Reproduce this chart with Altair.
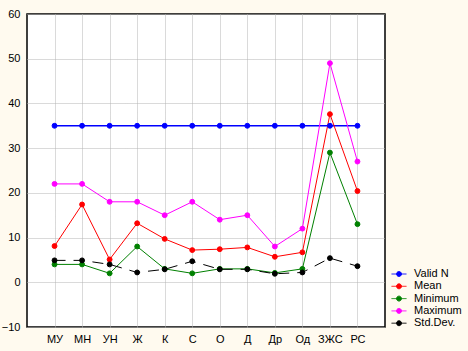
import altair as alt
import pandas as pd

categories = ["МУ", "МН", "УН", "Ж", "К", "С", "О", "Д", "Др", "Од", "ЗЖС", "РС"]
series = ["Valid N", "Mean", "Minimum", "Maximum", "Std.Dev."]
valid_n = [35, 35, 35, 35, 35, 35, 35, 35, 35, 35, 35, 35]
mean = [8.1, 17.4, 5.1, 13.2, 9.7, 7.2, 7.4, 7.8, 5.7, 6.7, 37.6, 20.4]
minimum = [4, 4, 2, 8, 3, 2, 3, 3, 2.1, 3, 29, 13]
maximum = [22, 22, 18, 18, 15, 18, 14, 15, 8, 12, 49, 27]
std_dev = [4.9, 4.9, 4.0, 2.2, 2.9, 4.7, 2.9, 2.9, 1.9, 2.2, 5.4, 3.6]
colors = ["#0000FF", "#FF0000", "#008000", "#FF00FF", "#000000"]

rows = []
for name, vals in zip(series, [valid_n, mean, minimum, maximum, std_dev]):
    for i, (c, v) in enumerate(zip(categories, vals)):
        rows.append({"cat": c, "idx": i, "series": name, "value": v})
df = pd.DataFrame(rows)

color_scale = alt.Scale(domain=series, range=colors)
x_enc = alt.X("cat:N", sort=categories, scale=alt.Scale(type="point", padding=1),
              axis=alt.Axis(title=None, grid=True, ticks=False, domain=False,
                            labelFont="Liberation Sans", labelFontSize=11,
                            labelColor="#000000", labelPadding=6, labelAngle=0,
                            gridColor="#B4B4B4", gridDash=[1, 1]))
y_enc = alt.Y("value:Q", scale=alt.Scale(domain=[-10, 60], nice=False, zero=False),
              axis=alt.Axis(title=None, values=list(range(-10, 61, 10)), grid=True,
                            ticks=False, domain=False, labelFont="Liberation Sans",
                            labelFontSize=11, labelColor="#000000", labelPadding=7,
                            gridColor="#B4B4B4", gridDash=[1, 1]))

sym_path = "M-1.15,0H1.15M0.38,0A0.38,0.38,0,1,1,-0.38,0A0.38,0.38,0,1,1,0.38,0Z"

legend = alt.Legend(orient="none", legendX=365, legendY=253,
                    symbolType=sym_path, symbolSize=169, symbolStrokeWidth=1,
                    symbolOpacity=1, symbolDash=[1, 0],
                    labelFont="Liberation Sans", labelFontSize=11,
                    labelColor="#000000", labelOffset=8, rowPadding=0.3,
                    padding=0)

color_enc = alt.Color("series:N", scale=color_scale, title=None, legend=legend)
base = alt.Chart(df)

line_valid = base.mark_line(strokeWidth=1.5).encode(
    x=x_enc, y=y_enc, color=color_enc, order=alt.Order("idx:Q"),
).transform_filter(alt.datum.series == "Valid N")

line_stats = base.mark_line(strokeWidth=1).encode(
    x=x_enc, y=y_enc, color=color_enc, order=alt.Order("idx:Q"),
).transform_filter(alt.FieldOneOfPredicate(field="series", oneOf=["Mean", "Minimum", "Maximum"]))

line_sd = base.mark_line(strokeWidth=1, strokeDash=[11, 8]).encode(
    x=x_enc, y=y_enc, color=color_enc, order=alt.Order("idx:Q"),
).transform_filter(alt.datum.series == "Std.Dev.")

points = base.mark_point(filled=True, size=24, opacity=1, strokeWidth=1).encode(
    x=x_enc, y=y_enc,
    color=color_enc,
    stroke=alt.Stroke("series:N", scale=color_scale, title=None, legend=legend),
)

chart = alt.layer(line_valid, line_stats, line_sd, points).properties(
    width=358, height=313,
    padding={"left": 27, "top": 14, "right": 83, "bottom": 24},
    autosize=alt.AutoSizeParams(type="none"),
    background="#FFFAEF",
).configure_view(stroke="#000000", strokeWidth=1.5, fill="#FFFFFF")

chart.save("out.html", embed_options={"renderer": "svg", "actions": False})
